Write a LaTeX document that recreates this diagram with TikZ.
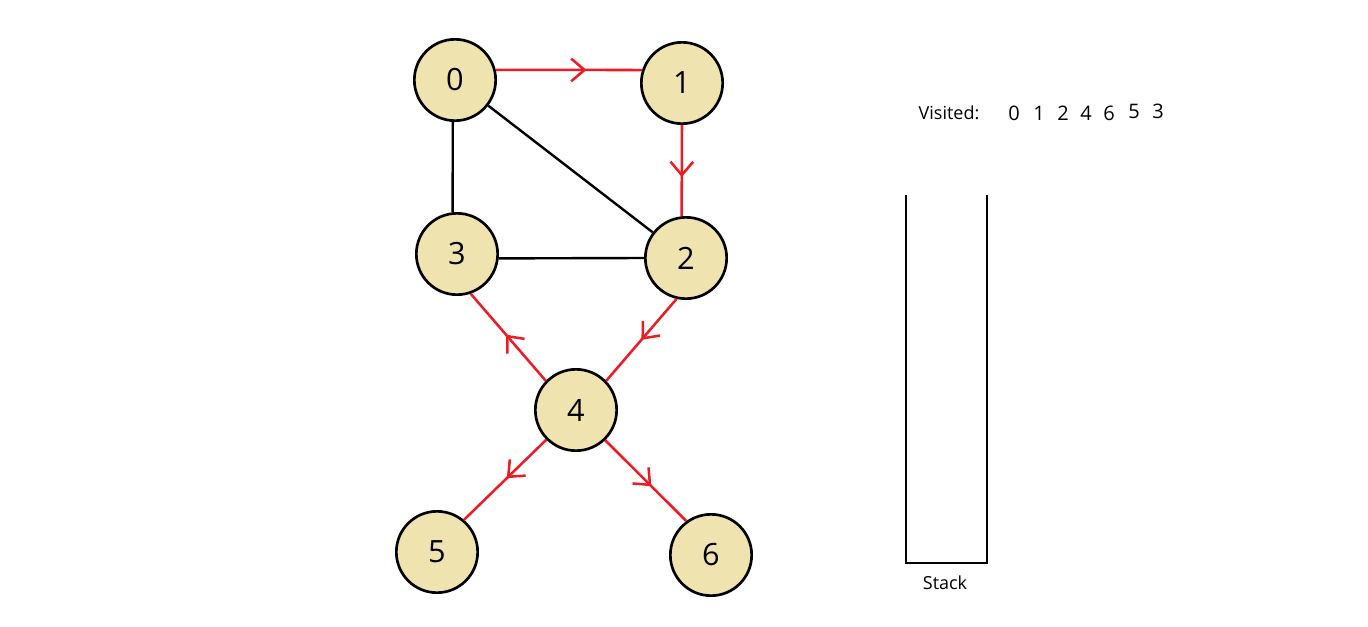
\documentclass[tikz,border=0pt]{standalone}
\usepackage{fontspec}
\setmainfont{Open Sans}
\usetikzlibrary{decorations.markings,arrows.meta}
\definecolor{vtxfill}{HTML}{EFE4B0}
\definecolor{pathred}{HTML}{ED1C24}
\tikzset{
  vertex/.style={circle, draw=black, line width=2pt, fill=vtxfill,
    minimum size=61pt, inner sep=0pt, font=\fontsize{23}{23}\selectfont},
  plain/.style={draw=black, line width=1.8pt},
  visit/.style={draw=pathred, line width=1.9pt, postaction={decorate},
    decoration={markings, mark=at position #1 with
      {\arrow[pathred]{Straight Barb[length=10pt,width=17pt,line width=1.9pt]}}}},
  visit/.default=0.5,
  label/.style={inner sep=0pt, font=\fontsize{13.5}{13.5}\selectfont},
  order/.style={inner sep=0pt, font=\fontsize{15}{15}\selectfont},
}
\begin{document}
\begin{tikzpicture}[x=0.75pt, y=-0.75pt]
  \useasboundingbox (0,0) rectangle (1368,626);

  % graph vertices
  \node[vertex] (n0) at (455,80)  {0};
  \node[vertex] (n1) at (682,83)  {1};
  \node[vertex] (n3) at (457,254) {3};
  \node[vertex] (n2) at (686,258) {2};
  \node[vertex] (n4) at (576,410) {4};
  \node[vertex] (n5) at (437,552) {5};
  \node[vertex] (n6) at (711,555) {6};

  % undirected edges not used by the traversal
  \draw[plain] (n0.267) -- (n3.96);
  \draw[plain] (n0) -- (n2);
  \draw[plain] (n3.-6) -- (n2.west);

  % traversal edges
  \draw[visit=0.62] (n0.14) -- (n1.162);
  \draw[visit=0.57] (n1.south) -- (n2.96);
  \draw[visit=0.5]  (n2.-103) -- (n4.44);
  \draw[visit=0.53] (n4.136) -- (n3.-71);
  \draw[visit=0.48] (n4.-135) -- (n5.50);
  \draw[visit=0.57] (n4.-46) -- (n6.126);

  % visited order
  \node[label] (vis) at (949,113) {Visited:};
  \node[order] (d0) at (1014,113) {0};
  \node[order] (d1) at (1039,113) {1};
  \node[order] (d2) at (1063,113) {2};
  \node[order] (d4) at (1086,113) {4};
  \node[order] (d6) at (1109,113) {6};
  \node[order] (d5) at (1134,111) {5};
  \node[order] (d3) at (1158,111) {3};

  % empty stack
  \draw[line width=2.2pt, line join=miter] (906,195) -- (906,563) -- (987,563) -- (987,195);
  \node[label] (stk) at (945,583) {Stack};
\end{tikzpicture}
\end{document}
